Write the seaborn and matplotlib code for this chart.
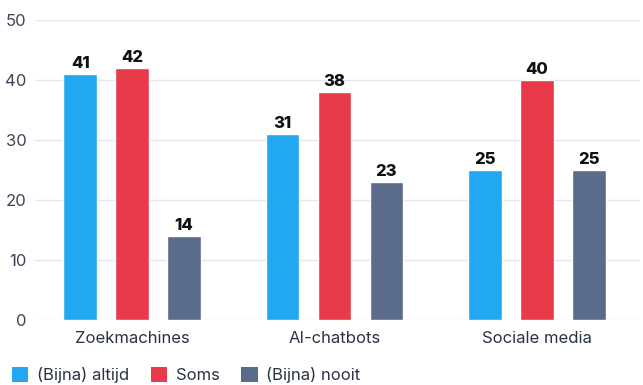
import matplotlib
matplotlib.use("Agg")
import matplotlib.pyplot as plt
import pandas as pd
import seaborn as sns
from matplotlib.patches import Patch

CATEGORIES = ["Zoekmachines", "AI-chatbots", "Sociale media"]
SERIES = ["(Bijna) altijd", "Soms", "(Bijna) nooit"]
ALTIJD = [41, 31, 25]
SOMS = [42, 38, 40]
NOOIT = [14, 23, 25]
COLORS = ["#22a8f0", "#e83a4a", "#5b6b8b"]
Y_TICKS = [0, 10, 20, 30, 40, 50]


def build_frame():
    rows = []
    for name, values in zip(SERIES, [ALTIJD, SOMS, NOOIT]):
        for cat, v in zip(CATEGORIES, values):
            rows.append({"categorie": cat, "antwoord": name, "pct": v})
    return pd.DataFrame(rows)


def main():
    sns.set_theme(style="white")
    plt.rcParams["font.family"] = ["Inter", "DejaVu Sans"]
    df = build_frame()

    fig = plt.figure(figsize=(6.43, 3.85), dpi=100)
    ax = fig.add_axes([35 / 643, 65 / 385, 605 / 643, 300 / 385])

    sns.barplot(
        data=df,
        x="categorie",
        y="pct",
        hue="antwoord",
        hue_order=SERIES,
        order=CATEGORIES,
        palette=COLORS,
        width=0.77,
        gap=0.35,
        saturation=1,
        legend=False,
        ax=ax,
    )

    for container in ax.containers:
        ax.bar_label(container, fmt="%d", padding=2, fontsize=12,
                     fontweight="heavy", color="#111111")

    ax.set_ylim(0, 50)
    ax.set_yticks(Y_TICKS)
    ax.yaxis.grid(True, color="#e3e6ec", linewidth=1)
    ax.set_axisbelow(True)
    for side in ["top", "right", "left", "bottom"]:
        ax.spines[side].set_visible(False)
    ax.set_xlabel("")
    ax.set_ylabel("")
    ax.tick_params(axis="y", length=0, pad=6, labelsize=12, labelcolor="#3a4658")
    ax.tick_params(axis="x", length=0, pad=8, labelsize=12, labelcolor="#2a3344")
    ax.set_xlim(-0.48, 2.51)

    handles = [Patch(facecolor=c, edgecolor="none") for c in COLORS]
    fig.legend(
        handles,
        SERIES,
        loc="lower left",
        bbox_to_anchor=(-0.005, -0.035),
        ncol=3,
        frameon=False,
        fontsize=12,
        handlelength=1.0,
        handleheight=1.0,
        handletextpad=0.5,
        columnspacing=1.3,
        labelcolor="#2a3344",
    )

    fig.savefig("out.png", dpi=100)
    plt.close(fig)


if __name__ == "__main__":
    main()
